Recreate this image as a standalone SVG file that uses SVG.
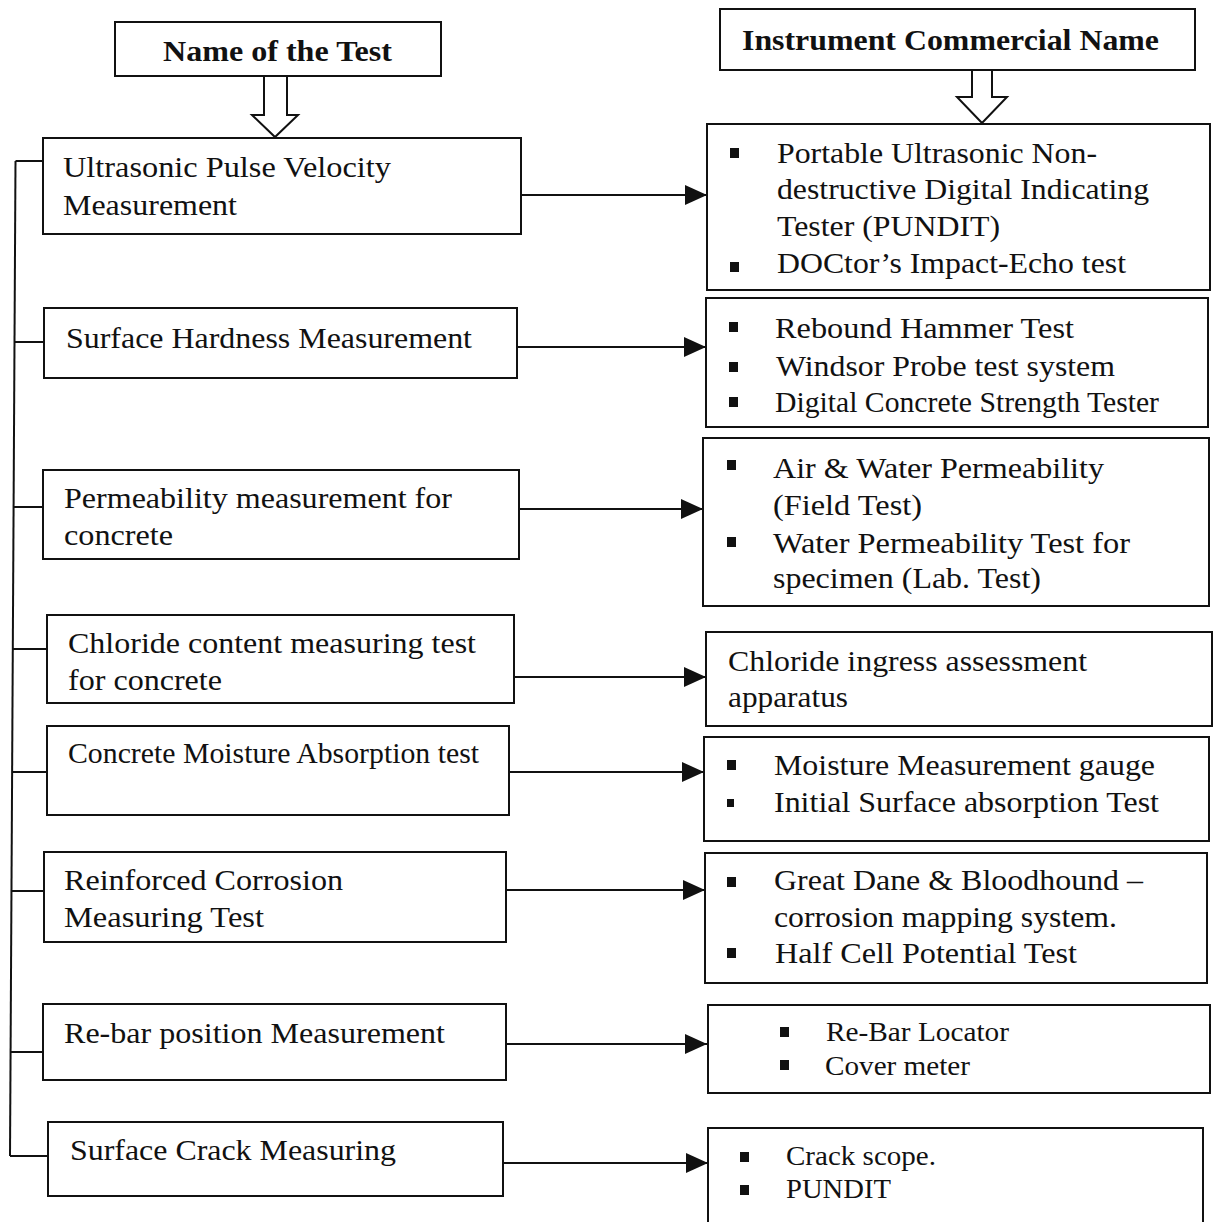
<svg xmlns="http://www.w3.org/2000/svg" width="1216" height="1222" viewBox="0 0 1216 1222">
<style>
.bg{fill:#fff}
.box{fill:#fff;stroke:#111;stroke-width:2}
.con{fill:none;stroke:#111;stroke-width:2}
.blk{fill:#fff;stroke:#111;stroke-width:2;stroke-linejoin:miter}
.t{font-family:"Liberation Serif","Times New Roman",serif;font-size:30px;fill:#111}
.h{font-family:"Liberation Serif","Times New Roman",serif;font-size:30px;font-weight:bold;fill:#111}
.s{font-family:"Liberation Serif","Times New Roman",serif;font-size:27px;fill:#111}
.b{fill:#111}
</style>
<defs>
<marker id="ah" markerUnits="userSpaceOnUse" markerWidth="22" markerHeight="20" refX="22" refY="10" orient="auto">
<path d="M0,0 L22,10 L0,20 Z" fill="#111"/>
</marker>
</defs>
<rect class="bg" x="0" y="0" width="1216" height="1222"/>

<g id="connectors">
<path class="con" d="M15.5,161 L10,1156"/>
<path class="con" d="M15.5,161 H43"/>
<path class="con" d="M14.5,342 H44"/>
<path class="con" d="M13.6,507 H43"/>
<path class="con" d="M12.8,649 H47"/>
<path class="con" d="M12.1,772 H47"/>
<path class="con" d="M11.5,891 H44"/>
<path class="con" d="M10.6,1052 H43"/>
<path class="con" d="M10,1156 H48"/>
<path class="con" d="M521,195 H707" marker-end="url(#ah)"/>
<path class="con" d="M517,347 H706" marker-end="url(#ah)"/>
<path class="con" d="M519,509 H703" marker-end="url(#ah)"/>
<path class="con" d="M514,677 H706" marker-end="url(#ah)"/>
<path class="con" d="M509,772 H704" marker-end="url(#ah)"/>
<path class="con" d="M506,890 H705" marker-end="url(#ah)"/>
<path class="con" d="M506,1044 H707" marker-end="url(#ah)"/>
<path class="con" d="M503,1163 H708" marker-end="url(#ah)"/>
<polygon class="blk" points="264,76 287,76 287,115 298,115 275,137 252,115 264,115"/>
<polygon class="blk" points="972,70 992,70 992,97 1007,97 982,123 957,97 972,97"/>
</g>

<g id="header-test">
<rect class="box" x="115" y="22" width="326" height="54"/>
<text class="h" x="163" y="61" textLength="229" lengthAdjust="spacingAndGlyphs">Name of the Test</text>
</g>
<g id="header-instrument">
<rect class="box" x="720" y="9" width="475" height="61"/>
<text class="h" x="742" y="50" textLength="417" lengthAdjust="spacingAndGlyphs">Instrument Commercial Name</text>
</g>

<g id="test-upv">
<rect class="box" x="43" y="138" width="478" height="96"/>
<text class="t" x="63" y="177" textLength="328" lengthAdjust="spacingAndGlyphs">Ultrasonic Pulse Velocity</text>
<text class="t" x="63" y="215" textLength="174" lengthAdjust="spacingAndGlyphs">Measurement</text>
</g>
<g id="test-hardness">
<rect class="box" x="44" y="308" width="473" height="70"/>
<text class="t" x="66" y="348" textLength="406" lengthAdjust="spacingAndGlyphs">Surface Hardness Measurement</text>
</g>
<g id="test-permeability">
<rect class="box" x="43" y="470" width="476" height="89"/>
<text class="t" x="64" y="508" textLength="388" lengthAdjust="spacingAndGlyphs">Permeability measurement for</text>
<text class="t" x="64" y="545" textLength="109" lengthAdjust="spacingAndGlyphs">concrete</text>
</g>
<g id="test-chloride">
<rect class="box" x="47" y="615" width="467" height="88"/>
<text class="t" x="68" y="653" textLength="408" lengthAdjust="spacingAndGlyphs">Chloride content measuring test</text>
<text class="t" x="68" y="690" textLength="154" lengthAdjust="spacingAndGlyphs">for concrete</text>
</g>
<g id="test-moisture">
<rect class="box" x="47" y="726" width="462" height="89"/>
<text class="t" x="68" y="763" textLength="411" lengthAdjust="spacingAndGlyphs">Concrete Moisture Absorption test</text>
</g>
<g id="test-corrosion">
<rect class="box" x="44" y="852" width="462" height="90"/>
<text class="t" x="64" y="890" textLength="279" lengthAdjust="spacingAndGlyphs">Reinforced Corrosion</text>
<text class="t" x="64" y="927" textLength="200" lengthAdjust="spacingAndGlyphs">Measuring Test</text>
</g>
<g id="test-rebar">
<rect class="box" x="43" y="1004" width="463" height="76"/>
<text class="t" x="64" y="1043" textLength="381" lengthAdjust="spacingAndGlyphs">Re-bar position Measurement</text>
</g>
<g id="test-crack">
<rect class="box" x="48" y="1122" width="455" height="74"/>
<text class="t" x="70" y="1160" textLength="326" lengthAdjust="spacingAndGlyphs">Surface Crack Measuring</text>
</g>

<g id="inst-upv">
<rect class="box" x="707" y="124" width="503" height="166"/>
<rect class="b" x="730" y="148" width="9" height="10"/>
<rect class="b" x="730" y="262" width="9" height="10"/>
<text class="t" x="777" y="163" textLength="320" lengthAdjust="spacingAndGlyphs">Portable Ultrasonic Non-</text>
<text class="t" x="777" y="199" textLength="372" lengthAdjust="spacingAndGlyphs">destructive Digital Indicating</text>
<text class="t" x="777" y="236" textLength="223" lengthAdjust="spacingAndGlyphs">Tester (PUNDIT)</text>
<text class="t" x="777" y="273" textLength="349" lengthAdjust="spacingAndGlyphs">DOCtor’s Impact-Echo test</text>
</g>
<g id="inst-hardness">
<rect class="box" x="706" y="298" width="502" height="129"/>
<rect class="b" x="729" y="322" width="9" height="10"/>
<rect class="b" x="729" y="362" width="9" height="10"/>
<rect class="b" x="729" y="397" width="9" height="10"/>
<text class="t" x="775" y="338" textLength="299" lengthAdjust="spacingAndGlyphs">Rebound Hammer Test</text>
<text class="t" x="776" y="376" textLength="339" lengthAdjust="spacingAndGlyphs">Windsor Probe test system</text>
<text class="t" x="775" y="412" textLength="384" lengthAdjust="spacingAndGlyphs">Digital Concrete Strength Tester</text>
</g>
<g id="inst-permeability">
<rect class="box" x="703" y="438" width="506" height="168"/>
<rect class="b" x="727" y="460" width="9" height="10"/>
<rect class="b" x="727" y="537" width="9" height="10"/>
<text class="t" x="773" y="478" textLength="331" lengthAdjust="spacingAndGlyphs">Air &amp; Water Permeability</text>
<text class="t" x="773" y="515" textLength="149" lengthAdjust="spacingAndGlyphs">(Field Test)</text>
<text class="t" x="773" y="553" textLength="357" lengthAdjust="spacingAndGlyphs">Water Permeability Test for</text>
<text class="t" x="773" y="588" textLength="268" lengthAdjust="spacingAndGlyphs">specimen (Lab. Test)</text>
</g>
<g id="inst-chloride">
<rect class="box" x="706" y="632" width="506" height="94"/>
<text class="t" x="728" y="671" textLength="359" lengthAdjust="spacingAndGlyphs">Chloride ingress assessment</text>
<text class="t" x="728" y="707" textLength="120" lengthAdjust="spacingAndGlyphs">apparatus</text>
</g>
<g id="inst-moisture">
<rect class="box" x="704" y="737" width="505" height="104"/>
<rect class="b" x="727" y="760" width="9" height="10"/>
<rect class="b" x="727" y="799" width="7" height="8"/>
<text class="t" x="774" y="775" textLength="381" lengthAdjust="spacingAndGlyphs">Moisture Measurement gauge</text>
<text class="t" x="774" y="812" textLength="385" lengthAdjust="spacingAndGlyphs">Initial Surface absorption Test</text>
</g>
<g id="inst-corrosion">
<rect class="box" x="705" y="853" width="502" height="130"/>
<rect class="b" x="727" y="877" width="9" height="10"/>
<rect class="b" x="727" y="948" width="9" height="10"/>
<text class="t" x="774" y="890" textLength="369" lengthAdjust="spacingAndGlyphs">Great Dane &amp; Bloodhound –</text>
<text class="t" x="774" y="927" textLength="343" lengthAdjust="spacingAndGlyphs">corrosion mapping system.</text>
<text class="t" x="775" y="963" textLength="302" lengthAdjust="spacingAndGlyphs">Half Cell Potential Test</text>
</g>
<g id="inst-rebar">
<rect class="box" x="708" y="1005" width="502" height="88"/>
<rect class="b" x="780" y="1027" width="9" height="10"/>
<rect class="b" x="780" y="1060" width="9" height="10"/>
<text class="s" x="826" y="1041" textLength="183" lengthAdjust="spacingAndGlyphs">Re-Bar Locator</text>
<text class="s" x="825" y="1075" textLength="145" lengthAdjust="spacingAndGlyphs">Cover meter</text>
</g>
<g id="inst-crack">
<path class="box" d="M708,1222 V1128 H1203 V1222"/>
<rect class="b" x="740" y="1152" width="9" height="10"/>
<rect class="b" x="740" y="1185" width="9" height="10"/>
<text class="s" x="786" y="1165" textLength="150" lengthAdjust="spacingAndGlyphs">Crack scope.</text>
<text class="s" x="786" y="1198" textLength="105" lengthAdjust="spacingAndGlyphs">PUNDIT</text>
</g>
</svg>
